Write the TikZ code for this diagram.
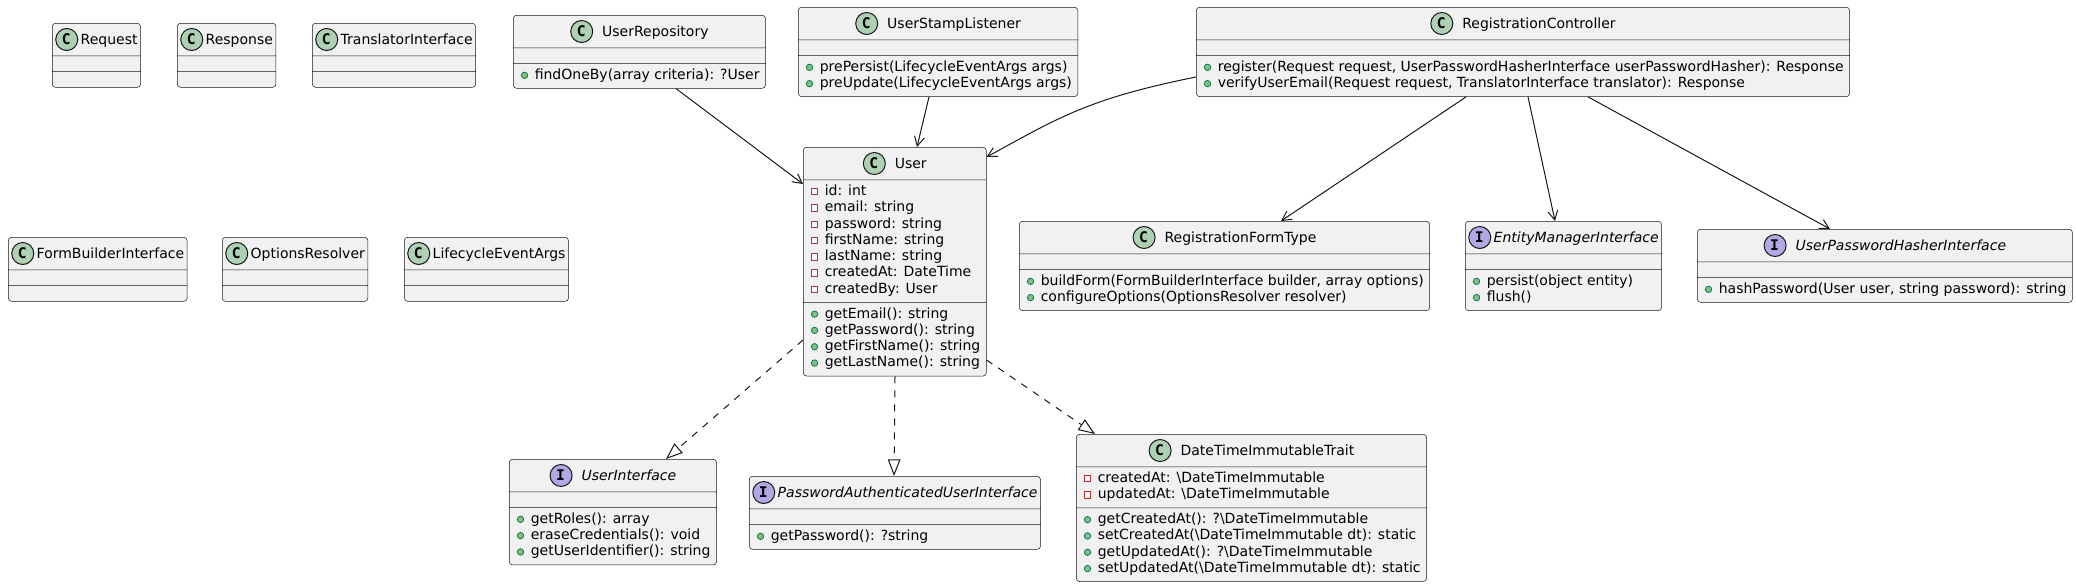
\documentclass[tikz,border=0pt]{standalone}
\usepackage{fontspec}
\setmainfont{DejaVu Sans}[ItalicFont={DejaVu Sans Oblique},BoldFont={DejaVu Sans Bold}]
\newfontfamily\iconfont{DejaVu Sans Mono Bold}
\usetikzlibrary{shapes.multipart,arrows.meta,calc}

\definecolor{boxfill}{HTML}{F1F1F1}
\definecolor{boxdraw}{HTML}{181818}
\definecolor{classicon}{HTML}{ADD1B2}
\definecolor{ifaceicon}{HTML}{B4A7E5}
\definecolor{pubfill}{HTML}{84BE84}
\definecolor{pubdraw}{HTML}{038048}
\definecolor{privdraw}{HTML}{C82930}

% header icon, strut and member rows
\newcommand\hicon[2]{\rlap{\tikz[baseline=-3.6pt]\draw[fill=#1,draw=boxdraw,line width=0.75pt] (0,0) circle[radius=8.25pt];}\makebox[16.5pt]{\iconfont\fontsize{11pt}{11pt}\selectfont #2}}
\newcommand\hstrut{\rule[-5.4pt]{0pt}{18pt}}
\newcommand\chead[2][2.6pt]{\hicon{classicon}{C}\kern#1 #2\hstrut}
\newcommand\ihead[2][2.6pt]{\hicon{ifaceicon}{I}\kern#1\textit{#2}\hstrut}
\newcommand\pubmark{\tikz[baseline=-2.9pt]\draw[fill=pubfill,draw=pubdraw,line width=0.6pt] (0,0) circle[radius=2.4pt];}
\newcommand\privmark{\tikz[baseline=-2.9pt]\draw[sharp corners,draw=privdraw,fill=white,line width=0.6pt] (-2.4pt,-2.4pt) rectangle (2.4pt,2.4pt);}
\newcommand\pub[1]{\kern3.5pt\pubmark\kern5pt #1\kern2.25pt}
\newcommand\priv[1]{\kern3.5pt\privmark\kern5pt #1\kern2.25pt}
\newcommand\mlist[1]{\begin{tabular}{@{}l@{}}#1\end{tabular}}

\tikzset{
  umlclass/.style={rectangle split, rectangle split parts=3,
    rectangle split part align={center,left,left},
    rectangle split empty part height=0pt, rectangle split empty part depth=0pt,
    rectangle split empty part width=0pt,
    draw=boxdraw, fill=boxfill, line width=0.375pt, rounded corners=2.5pt,
    inner xsep=2.25pt, inner ysep=3pt, anchor=north west,
    font=\fontsize{10.5pt}{12.225pt}\selectfont},
  assoc/.style={draw=boxdraw, line width=0.75pt, -{Straight Barb[length=7pt,width=7.5pt]}},
  realize/.style={draw=boxdraw, line width=0.75pt, dash pattern=on 5.25pt off 5.25pt,
    -{Triangle[open,length=12.5pt,width=9.5pt]}}
}

\begin{document}
\begin{tikzpicture}[x=0.75pt,y=-0.75pt]
\useasboundingbox (0,0) rectangle (2076,586);
% classes without members
\node[umlclass] (req) at (52,23) {\chead{Request}\nodepart{two}\nodepart{three}};
\node[umlclass] (resp) at (177,23) {\chead{Response}\nodepart{two}\nodepart{three}};
\node[umlclass] (transl) at (312,23) {\chead{TranslatorInterface}\nodepart{two}\nodepart{three}};
\node[umlclass] (fbuild) at (8,237) {\chead{FormBuilderInterface}\nodepart{two}\nodepart{three}};
\node[umlclass] (optres) at (222,237) {\chead{OptionsResolver}\nodepart{two}\nodepart{three}};
\node[umlclass] (lcargs) at (404,237) {\chead{LifecycleEventArgs}\nodepart{two}\nodepart{three}};
% top row
\node[umlclass] (urepo) at (513,15) {\chead[7.5pt]{UserRepository}\nodepart{two}\nodepart{three}
  \mlist{\pub{findOneBy(array criteria): ?User}}};
\node[umlclass] (ustamp) at (798,7) {\chead[7.5pt]{UserStampListener}\nodepart{two}\nodepart{three}
  \mlist{\pub{prePersist(LifecycleEventArgs args)}\\\pub{preUpdate(LifecycleEventArgs args)}}};
\node[umlclass] (regctl) at (1196,7) {\chead[7.5pt]{RegistrationController}\nodepart{two}\nodepart{three}
  \mlist{\pub{register(Request request, UserPasswordHasherInterface userPasswordHasher): Response}\\
  \pub{verifyUserEmail(Request request, TranslatorInterface translator): Response}}};
% middle row
\node[umlclass] (user) at (803,147) {\chead[7.5pt]{User}\nodepart{two}
  \mlist{\priv{id: int}\\\priv{email: string}\\\priv{password: string}\\\priv{firstName: string}\\
  \priv{lastName: string}\\\priv{createdAt: DateTime}\\\priv{createdBy: User}}\nodepart{three}
  \mlist{\pub{getEmail(): string}\\\pub{getPassword(): string}\\\pub{getFirstName(): string}\\\pub{getLastName(): string}}};
\node[umlclass] (regform) at (1019,221) {\chead[7.5pt]{RegistrationFormType}\nodepart{two}\nodepart{three}
  \mlist{\pub{buildForm(FormBuilderInterface builder, array options)}\\\pub{configureOptions(OptionsResolver resolver)}}};
\node[umlclass] (emgr) at (1465,221) {\ihead{EntityManagerInterface}\nodepart{two}\nodepart{three}
  \mlist{\pub{persist(object entity)}\\\pub{flush()}}};
\node[umlclass] (pwhash) at (1697,229) {\ihead[7.5pt]{UserPasswordHasherInterface}\nodepart{two}\nodepart{three}
  \mlist{\pub{hashPassword(User user, string password): string}}};
% bottom row
\node[umlclass] (uiface) at (509,459) {\ihead[7.5pt]{UserInterface}\nodepart{two}\nodepart{three}
  \mlist{\pub{getRoles(): array}\\\pub{eraseCredentials(): void}\\\pub{getUserIdentifier(): string}}};
\node[umlclass] (pauiface) at (749,476) {\ihead{PasswordAuthenticatedUserInterface}\nodepart{two}\nodepart{three}
  \mlist{\pub{getPassword(): ?string}}};
\node[umlclass] (dtitrait) at (1076,434) {\chead[7.5pt]{DateTimeImmutableTrait}\nodepart{two}
  \mlist{\priv{createdAt: \textbackslash DateTimeImmutable}\\\priv{updatedAt: \textbackslash DateTimeImmutable}}\nodepart{three}
  \mlist{\pub{getCreatedAt(): ?\textbackslash DateTimeImmutable}\\\pub{setCreatedAt(\textbackslash DateTimeImmutable dt): static}\\
  \pub{getUpdatedAt(): ?\textbackslash DateTimeImmutable}\\\pub{setUpdatedAt(\textbackslash DateTimeImmutable dt): static}}};
% associations
\draw[assoc] ($(urepo.south west)+(163,0)$) -- ($(user.north west)+(0,37)$);
\draw[assoc] ($(ustamp.south west)+(131,0)$) -- ($(user.north west)+(114,0)$);
\draw[assoc] ($(regctl.north west)+(0,70)$) .. controls +(-110,22) and +(70,-38) .. ($(user.north east)+(0,10)$);
\draw[assoc] ($(regctl.south west)+(270,0)$) -- ($(regform.north west)+(262,0)$);
\draw[assoc] ($(regctl.south west)+(332,0)$) -- ($(emgr.north west)+(90,0)$);
\draw[assoc] ($(regctl.south west)+(392,0)$) -- ($(pwhash.north west)+(133,0)$);
% realizations
\draw[realize] ($(user.north west)+(0,193)$) -- ($(uiface.north west)+(157,0)$);
\draw[realize] ($(user.south west)+(92,0)$) -- ($(pauiface.north west)+(145,0)$);
\draw[realize] ($(user.north east)+(0,213)$) -- ($(dtitrait.north west)+(19,0)$);
\end{tikzpicture}
\end{document}
